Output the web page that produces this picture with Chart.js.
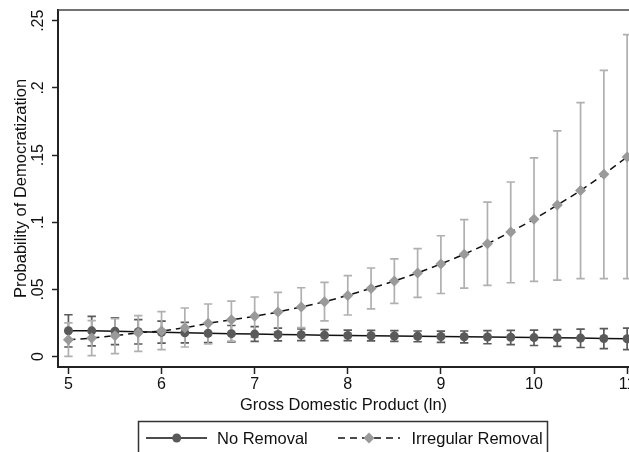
<!DOCTYPE html>
<html lang="en">
<head>
    <meta charset="UTF-8">
    <title>Probability of Democratization</title>
    <script src="https://cdn.jsdelivr.net/npm/chart.js"></script>
    <style>
        body {
            margin: 0;
            background-color: #fff;
        }
    </style>
</head>
<body>
    <canvas id="democChart" width="629" height="452"></canvas>

    <script>
        // GDP (ln) values where predictions were computed
        const gdp = [5, 5.25, 5.5, 5.75, 6, 6.25, 6.5, 6.75, 7, 7.25, 7.5, 7.75, 8,
                     8.25, 8.5, 8.75, 9, 9.25, 9.5, 9.75, 10, 10.25, 10.5, 10.75, 11];

        const noRemoval = [.0193, .0192, .0189, .0186, .0181, .0177, .0174, .0171, .0168, .0165, .0163, .0160, .0158,
                           .0156, .0154, .0152, .0150, .0148, .0146, .0144, .0142, .0140, .0138, .0135, .0133];
        const noRemovalHigh = [.0312, .0300, .0288, .0276, .0265, .0255, .0246, .0232, .0224, .0213, .0206, .0201, .0197,
                               .0195, .0193, .0191, .0190, .0191, .0193, .0195, .0198, .0201, .0205, .0209, .0213];
        const noRemovalLow = [.0072, .0080, .0089, .0094, .0100, .0102, .0105, .0110, .0113, .0117, .0120, .0120, .0119,
                              .0117, .0114, .0111, .0107, .0102, .0096, .0090, .0083, .0076, .0068, .0060, .0052];

        const irregular = [.0126, .0138, .0156, .0178, .0191, .0215, .0248, .0275, .0300, .0332, .0370, .0408, .0456,
                           .0508, .0563, .0623, .0690, .0762, .0840, .0928, .1022, .1128, .1236, .1357, .1486];
        const irregularHigh = [.0252, .0268, .0283, .0305, .0335, .0362, .0392, .0414, .0444, .0479, .0513, .0553, .0603,
                               .0660, .0727, .0804, .0900, .1020, .1150, .1300, .1480, .1680, .1890, .2130, .2396];
        const irregularLow = [.0002, .0007, .0022, .0040, .0052, .0072, .0095, .0116, .0144, .0185, .0216, .0266, .0310,
                              .0355, .0397, .0441, .0470, .0510, .0530, .0550, .0560, .0570, .0580, .0580, .0580];

        const xTicks = [5, 6, 7, 8, 9, 10, 11];
        const yTicks = [0, .05, .1, .15, .2, .25];
        const yTickLabels = ['0', '.05', '.1', '.15', '.2', '.25'];

        const FONT = "'Liberation Sans', Arial, Helvetica, sans-serif";
        Chart.defaults.font.family = FONT;
        Chart.defaults.color = '#111';

        function drawErrorBars(ctx, xs, ys, lows, highs, color) {
            ctx.strokeStyle = color;
            ctx.lineWidth = 1.7;
            gdp.forEach((g, i) => {
                const px = xs.getPixelForValue(g);
                const top = ys.getPixelForValue(highs[i]);
                const bot = ys.getPixelForValue(lows[i]);
                ctx.beginPath();
                ctx.moveTo(px, top); ctx.lineTo(px, bot);
                ctx.moveTo(px - 4.2, top); ctx.lineTo(px + 4.2, top);
                ctx.moveTo(px - 4.2, bot); ctx.lineTo(px + 4.2, bot);
                ctx.stroke();
            });
        }

        // error bars behind the markers
        const errorBars = {
            id: 'errorBars',
            beforeDatasetsDraw(chart) {
                const { ctx, scales: { x, y } } = chart;
                ctx.save();
                drawErrorBars(ctx, x, y, noRemovalLow, noRemovalHigh, '#5a5a5a');
                drawErrorBars(ctx, x, y, irregularLow, irregularHigh, '#b0b0b0');
                ctx.restore();
            }
        };

        // rotated y labels, top frame line and the boxed legend
        const decorations = {
            id: 'decorations',
            afterDraw(chart) {
                const { ctx, chartArea, scales: { y } } = chart;
                ctx.save();

                ctx.strokeStyle = '#444';
                ctx.lineWidth = 1.5;
                ctx.beginPath();
                ctx.moveTo(chartArea.left, chartArea.top);
                ctx.lineTo(chartArea.right, chartArea.top);
                ctx.stroke();

                ctx.fillStyle = '#111';
                ctx.font = '16px ' + FONT;
                ctx.textAlign = 'center';
                ctx.textBaseline = 'middle';
                yTicks.forEach((v, i) => {
                    ctx.save();
                    ctx.translate(39, y.getPixelForValue(v));
                    ctx.rotate(-Math.PI / 2);
                    ctx.fillText(yTickLabels[i], 0, 0);
                    ctx.restore();
                });

                // legend
                ctx.strokeStyle = '#333';
                ctx.lineWidth = 1.5;
                ctx.strokeRect(138.5, 421.5, 409, 50);

                const ly = 438;
                ctx.strokeStyle = '#111';
                ctx.beginPath();
                ctx.moveTo(146, ly); ctx.lineTo(207, ly);
                ctx.stroke();
                ctx.fillStyle = '#5a5a5a';
                ctx.beginPath();
                ctx.arc(176.7, ly, 4.5, 0, Math.PI * 2);
                ctx.fill();

                ctx.setLineDash([7, 5]);
                ctx.beginPath();
                ctx.moveTo(338, ly); ctx.lineTo(400, ly);
                ctx.stroke();
                ctx.setLineDash([]);
                ctx.fillStyle = '#9a9a9a';
                ctx.beginPath();
                ctx.moveTo(363.5, ly); ctx.lineTo(369, ly - 5.5);
                ctx.lineTo(374.5, ly); ctx.lineTo(369, ly + 5.5);
                ctx.closePath();
                ctx.fill();

                ctx.fillStyle = '#111';
                ctx.textAlign = 'left';
                ctx.font = '16.5px ' + FONT;
                ctx.fillText(chart.data.datasets[1].label, 217, ly + 1);
                ctx.fillText(chart.data.datasets[0].label, 411.5, ly + 1);
                ctx.restore();
            }
        };

        const ctx = document.getElementById('democChart').getContext('2d');
        window.democChart = new Chart(ctx, {
            type: 'line',
            data: {
                datasets: [{
                    label: 'Irregular Removal',
                    data: gdp.map((g, i) => ({ x: g, y: irregular[i] })),
                    borderColor: '#111',
                    borderWidth: 1.5,
                    borderDash: [7, 5],
                    pointStyle: 'rectRot',
                    pointRadius: 5.5,
                    pointBorderWidth: 0,
                    pointBackgroundColor: '#9a9a9a',
                    pointBorderColor: '#9a9a9a',
                    order: 0
                }, {
                    label: 'No Removal',
                    data: gdp.map((g, i) => ({ x: g, y: noRemoval[i] })),
                    borderColor: '#111',
                    borderWidth: 1.5,
                    pointStyle: 'circle',
                    pointRadius: 4.5,
                    pointBorderWidth: 0,
                    pointBackgroundColor: '#5a5a5a',
                    pointBorderColor: '#5a5a5a',
                    order: 1
                }]
            },
            options: {
                responsive: false,
                animation: false,
                layout: {
                    autoPadding: false,
                    padding: { left: 0, right: 0, top: 10, bottom: 36.2 }
                },
                plugins: {
                    legend: { display: false },
                    tooltip: { enabled: false }
                },
                scales: {
                    x: {
                        type: 'linear',
                        min: 4.888,
                        max: 11.02,
                        afterBuildTicks: s => { s.ticks = xTicks.map(v => ({ value: v })); },
                        afterFit: s => { s.paddingLeft = 0; s.paddingRight = 0; },
                        grid: {
                            drawOnChartArea: false,
                            drawTicks: true,
                            tickLength: 7,
                            tickWidth: 1.5,
                            tickColor: '#222'
                        },
                        border: { color: '#222', width: 2 },
                        ticks: {
                            autoSkip: false,
                            maxRotation: 0,
                            padding: 3,
                            color: '#111',
                            font: { size: 16, lineHeight: 1 },
                            callback: v => String(v)
                        },
                        title: {
                            display: true,
                            text: 'Gross Domestic Product (ln)',
                            color: '#111',
                            font: { size: 16.5 },
                            padding: { top: 0, bottom: 0 }
                        }
                    },
                    y: {
                        min: -0.0077,
                        max: 0.258,
                        afterBuildTicks: s => { s.ticks = yTicks.map(v => ({ value: v })); },
                        afterFit: s => { s.width = 58; s.paddingTop = 0; s.paddingBottom = 0; },
                        grid: {
                            drawOnChartArea: false,
                            drawTicks: true,
                            tickLength: 6,
                            tickWidth: 1.5,
                            tickColor: '#222'
                        },
                        border: { color: '#222', width: 2 },
                        ticks: { display: false },
                        title: {
                            display: true,
                            text: 'Probability of Democratization',
                            color: '#111',
                            font: { size: 16.5 },
                            padding: { top: 12, bottom: 0 }
                        }
                    }
                }
            },
            plugins: [errorBars, decorations]
        });
    </script>
</body>
</html>
